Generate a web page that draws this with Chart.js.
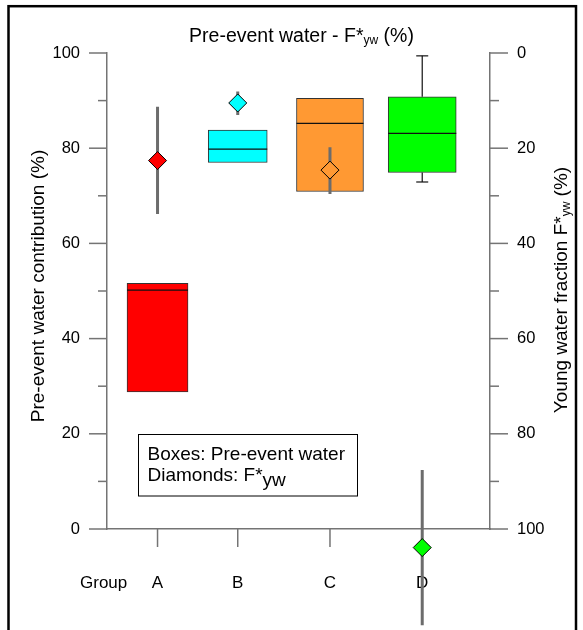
<!DOCTYPE html>
<html>
<head>
<meta charset="utf-8">
<script src="https://cdn.jsdelivr.net/npm/chart.js@4.4.1/dist/chart.umd.min.js"></script>
<style>
  html, body { margin: 0; padding: 0; background: #fff; }
  canvas { display: block; }
</style>
</head>
<body>
<canvas id="chart" width="583" height="630"></canvas>
<script>
// Groups and their positions along the x axis
const groups = ['A', 'B', 'C', 'D'];
const groupX = [1, 2, 3.15, 4.3];

// Pre-event water contribution (%), box statistics per group
const boxLow = [28.8, 77.0, 70.9, 74.9];
const boxMedian = [50.2, 79.8, 85.2, 83.1];
const boxHigh = [51.6, 83.8, 90.5, 90.8];
const whiskerLow = [null, null, null, 72.9];
const whiskerHigh = [null, null, null, 99.4];

// Young water fraction F*yw (%), value with its uncertainty range
const fywValue = [22.6, 10.5, 24.6, 103.9];
const fywLow = [11.3, 8.1, 19.8, 87.6];
const fywHigh = [33.8, 13.0, 29.6, 120.2];

// Axis tick labels
const leftTicks = [0, 20, 40, 60, 80, 100];
const rightTicks = [0, 20, 40, 60, 80, 100];

// Styling
const groupColors = ['#ff0000', '#00ffff', '#ff9933', '#00ff00'];
const boxWidths = [61, 59, 67, 68];
const FONT = "'Liberation Sans', Arial, sans-serif";
const AXIS_GREY = '#747474';
const ERR_GREY = '#6c6c6c';

function richWidth(ctx, parts) {
  let w = 0;
  for (const p of parts) {
    ctx.font = p.size + 'px ' + FONT;
    w += ctx.measureText(p.text).width;
  }
  return w;
}
function drawRich(ctx, parts, cx, baseline) {
  let x = cx - richWidth(ctx, parts) / 2;
  ctx.textAlign = 'left';
  ctx.textBaseline = 'alphabetic';
  for (const p of parts) {
    ctx.font = p.size + 'px ' + FONT;
    ctx.fillText(p.text, x, baseline + (p.dy || 0));
    x += ctx.measureText(p.text).width;
  }
}
function line(ctx, x1, y1, x2, y2) {
  ctx.beginPath();
  ctx.moveTo(x1, y1);
  ctx.lineTo(x2, y2);
  ctx.stroke();
}

const boxSets = groups.map((g, i) => ({
  type: 'bar',
  label: 'Pre-event water ' + g,
  data: [{ x: groupX[i], y: [boxLow[i], boxHigh[i]] }],
  backgroundColor: groupColors[i],
  borderColor: '#333333',
  borderWidth: 1,
  borderSkipped: false,
  barThickness: boxWidths[i],
  grouped: false,
  yAxisID: 'y',
  order: 3
}));

const errSets = groups.map((g, i) => ({
  type: 'line',
  label: 'F*yw range ' + g,
  data: [{ x: groupX[i], y: fywLow[i] }, { x: groupX[i], y: fywHigh[i] }],
  borderColor: ERR_GREY,
  borderWidth: 3,
  borderCapStyle: 'butt',
  pointRadius: 0,
  pointHoverRadius: 0,
  yAxisID: 'y2',
  clip: false,
  order: 2
}));

const diamondSet = {
  type: 'line',
  label: 'F*yw',
  showLine: false,
  data: groupX.map((x, i) => ({ x: x, y: fywValue[i] })),
  pointStyle: 'rectRot',
  pointRadius: 9,
  pointHoverRadius: 9,
  pointBackgroundColor: groupColors,
  pointBorderColor: '#000000',
  pointBorderWidth: 1,
  yAxisID: 'y2',
  clip: false,
  order: 1
};

const decorations = {
  id: 'decorations',
  beforeDatasetsDraw(chart) {
    const { ctx, chartArea: a, scales: { x, y, y2 } } = chart;
    ctx.save();
    ctx.strokeStyle = AXIS_GREY;
    ctx.lineWidth = 1.5;
    for (let v = 0; v <= 100; v += 10) {
      const len = v % 20 === 0 ? 18 : 9;
      const pl = y.getPixelForValue(v);
      line(ctx, a.left - len, pl, a.left, pl);
      const pr = y2.getPixelForValue(v);
      line(ctx, a.right, pr, a.right + len, pr);
    }
    groupX.forEach(gx => {
      const px = x.getPixelForValue(gx);
      line(ctx, px, a.bottom, px, a.bottom + 18);
    });
    ctx.restore();
  },
  afterDatasetsDraw(chart) {
    const { ctx, chartArea: a, scales: { y } } = chart;
    ctx.save();
    ctx.strokeStyle = '#111111';
    ctx.lineWidth = 1.2;
    groups.forEach((g, i) => {
      const bar = chart.getDatasetMeta(i).data[0];
      const half = bar.width / 2;
      const ym = y.getPixelForValue(boxMedian[i]);
      line(ctx, bar.x - half, ym, bar.x + half, ym);
      if (whiskerHigh[i] !== null) {
        const y0 = y.getPixelForValue(boxHigh[i]);
        const y1 = y.getPixelForValue(whiskerHigh[i]);
        line(ctx, bar.x, y0, bar.x, y1);
        line(ctx, bar.x - 6, y1, bar.x + 6, y1);
      }
      if (whiskerLow[i] !== null) {
        const y0 = y.getPixelForValue(boxLow[i]);
        const y1 = y.getPixelForValue(whiskerLow[i]);
        line(ctx, bar.x, y0, bar.x, y1);
        line(ctx, bar.x - 6, y1, bar.x + 6, y1);
      }
    });
    ctx.restore();
    // diamonds that fall outside the plotting area are still shown
    const dm = chart.getDatasetMeta(chart.data.datasets.length - 1);
    const full = { left: 0, top: 0, right: chart.width, bottom: chart.height };
    dm.data.forEach(el => {
      if (el.y > a.bottom + 8 || el.y < a.top - 8) el.draw(ctx, full);
    });
  },
  afterDraw(chart) {
    const { ctx, chartArea: a, scales: { y } } = chart;
    ctx.save();
    ctx.fillStyle = '#000000';

    // title
    drawRich(ctx, [
      { text: 'Pre-event water - F*', size: 19.5 },
      { text: 'yw', size: 12, dy: 2.5 },
      { text: ' (%)', size: 19.5 }
    ], (a.left + a.right) / 2 + 3, 41.5);

    // left axis title
    ctx.save();
    ctx.translate(43.5, 286);
    ctx.rotate(-Math.PI / 2);
    drawRich(ctx, [{ text: 'Pre-event water contribution (%)', size: 19 }], 0, 0);
    ctx.restore();

    // right axis title
    ctx.save();
    ctx.translate(567, 290);
    ctx.rotate(-Math.PI / 2);
    drawRich(ctx, [
      { text: 'Young water fraction F*', size: 19 },
      { text: 'yw', size: 12, dy: 3 },
      { text: ' (%)', size: 19 }
    ], 0, 0);
    ctx.restore();

    // x axis caption
    ctx.font = '17px ' + FONT;
    ctx.textAlign = 'left';
    ctx.textBaseline = 'middle';
    ctx.fillText('Group', 80, a.bottom + 54);

    // key box
    const kx = a.left + 31.5;
    const ky = Math.round(y.getPixelForValue(20)) + 0.5;
    ctx.strokeStyle = '#000000';
    ctx.lineWidth = 1;
    ctx.strokeRect(kx, ky, 219, 61.5);
    ctx.font = '19px ' + FONT;
    ctx.textBaseline = 'alphabetic';
    ctx.fillText('Boxes: Pre-event water', kx + 9, ky + 25);
    ctx.fillText('Diamonds: F*', kx + 9, ky + 46);
    const w = ctx.measureText('Diamonds: F*').width;
    ctx.fillText('yw', kx + 9 + w, ky + 51);

    // outer frame
    ctx.lineWidth = 2.5;
    ctx.strokeRect(8.5, 6.2, 567.5, 700);
    ctx.restore();
  }
};

new Chart(document.getElementById('chart'), {
  type: 'bar',
  data: { datasets: [...boxSets, ...errSets, diamondSet] },
  options: {
    responsive: false,
    devicePixelRatio: 1,
    animation: false,
    events: [],
    layout: { padding: { top: 53, left: 0, right: 0, bottom: 0 } },
    plugins: { legend: { display: false }, title: { display: false }, tooltip: { enabled: false } },
    scales: {
      x: {
        type: 'linear',
        min: 0.37,
        max: 5.145,
        offset: false,
        afterFit: s => { s.height = 101; },
        afterBuildTicks: s => { s.ticks = groupX.map(v => ({ value: v })); },
        grid: { display: false, drawTicks: false },
        border: { display: true, color: AXIS_GREY, width: 1.5 },
        ticks: {
          autoSkip: false,
          maxRotation: 0,
          padding: 44,
          color: '#000000',
          font: { family: FONT, size: 17 },
          callback: (v, i) => groups[i]
        }
      },
      y: {
        type: 'linear',
        position: 'left',
        min: 0,
        max: 100,
        afterFit: s => { s.width = 107; },
        afterBuildTicks: s => { s.ticks = leftTicks.map(v => ({ value: v })); },
        grid: { display: false, drawTicks: false },
        border: { display: true, color: AXIS_GREY, width: 1.5 },
        ticks: { padding: 27, color: '#000000', font: { family: FONT, size: 16.5 } }
      },
      y2: {
        type: 'linear',
        position: 'right',
        reverse: true,
        min: 0,
        max: 100,
        afterFit: s => { s.width = 93; },
        afterBuildTicks: s => { s.ticks = rightTicks.map(v => ({ value: v })); },
        grid: { display: false, drawTicks: false },
        border: { display: true, color: AXIS_GREY, width: 1.5 },
        ticks: { padding: 27, color: '#000000', font: { family: FONT, size: 16.5 } }
      }
    }
  },
  plugins: [decorations]
});
</script>
</body>
</html>
